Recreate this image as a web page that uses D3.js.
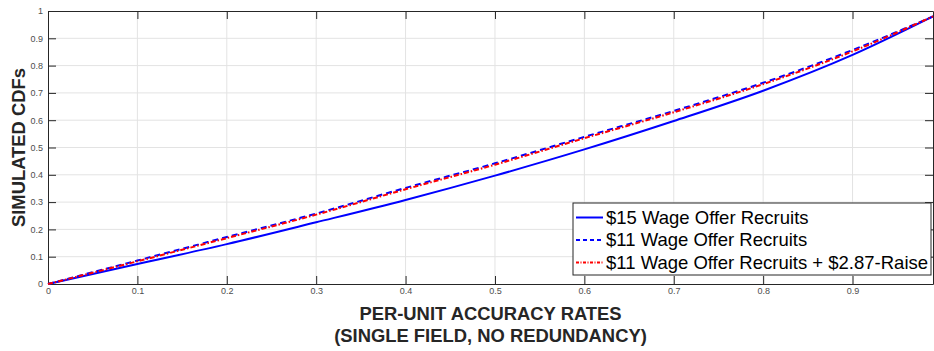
<!DOCTYPE html>
<html>
<head>
<meta charset="utf-8">
<script src="https://cdn.jsdelivr.net/npm/d3@7"></script>
<style>
	body { margin: 0; background: #fff; }
	svg { font-family: "Liberation Sans", Arial, Helvetica, sans-serif; }
</style>
</head>
<body>
<div id="chart"></div>
<script>
// Data
var accuracy = [0, 0.1, 0.2, 0.3, 0.4, 0.5, 0.6, 0.7, 0.8, 0.9, 0.99];
var wage15 = [0, 0.073, 0.146, 0.226, 0.308, 0.397, 0.493, 0.597, 0.708, 0.839, 0.98];
var wage11 = [0, 0.086, 0.172, 0.258, 0.352, 0.442, 0.539, 0.634, 0.737, 0.857, 0.98];
var wage11Raise = [0, 0.083, 0.168, 0.254, 0.347, 0.437, 0.534, 0.629, 0.732, 0.852, 0.98];
var seriesNames = ["$15 Wage Offer Recruits", "$11 Wage Offer Recruits", "$11 Wage Offer Recruits + $2.87-Raise"];
var xTicks = [0, 0.1, 0.2, 0.3, 0.4, 0.5, 0.6, 0.7, 0.8, 0.9];
var yTicks = [0, 0.1, 0.2, 0.3, 0.4, 0.5, 0.6, 0.7, 0.8, 0.9, 1];

var W = 934, H = 351;
var margin = {left: 48, right: 1, top: 11, bottom: 67};
var w = W - margin.left - margin.right,
	h = H - margin.top - margin.bottom;

var series = [
	{name: seriesNames[0], values: wage15, color: "#0000ff", dash: null},
	{name: seriesNames[1], values: wage11, color: "#0000ff", dash: "6,4"},
	{name: seriesNames[2], values: wage11Raise, color: "#ff0000", dash: "5,2,1.5,2"}
];

var svg = d3.select("#chart")
	.append("svg")
		.attr("width", W)
		.attr("height", H);

var g = svg.append("g")
	.attr("transform", "translate(" + margin.left + "," + margin.top + ")");

var x = d3.scaleLinear().domain([0, 0.99]).range([0, w]);
var y = d3.scaleLinear().domain([0, 1]).range([h, 0]);

// grid
g.append("g").selectAll("line")
	.data(xTicks.slice(1))
	.enter().append("line")
	.attr("x1", d => x(d)).attr("x2", d => x(d))
	.attr("y1", 0).attr("y2", h)
	.attr("stroke", "#e3e3e3").attr("stroke-width", 1);
g.append("g").selectAll("line")
	.data(yTicks.slice(1, -1))
	.enter().append("line")
	.attr("y1", d => y(d)).attr("y2", d => y(d))
	.attr("x1", 0).attr("x2", w)
	.attr("stroke", "#e3e3e3").attr("stroke-width", 1);

// axes (MATLAB style, ticks inward on all four sides)
var fmt = d => d === 0 ? "0" : d === 1 ? "1" : d3.format(".1f")(d);
function styleAxis(sel) {
	sel.select(".domain").attr("stroke", "#262626");
	sel.selectAll(".tick line").attr("stroke", "#262626");
	sel.selectAll(".tick text").attr("fill", "#4d4d4d").style("font-size", "9px");
}
g.append("g")
	.attr("transform", "translate(0," + h + ")")
	.call(d3.axisBottom(x).tickValues(xTicks).tickFormat(fmt).tickSizeInner(-8).tickSizeOuter(0).tickPadding(4))
	.call(styleAxis);
g.append("g")
	.call(d3.axisTop(x).tickValues(xTicks).tickFormat("").tickSizeInner(-8).tickSizeOuter(0))
	.call(styleAxis);
g.append("g")
	.call(d3.axisLeft(y).tickValues(yTicks).tickFormat(fmt).tickSizeInner(-8).tickSizeOuter(0).tickPadding(5))
	.call(styleAxis);
g.append("g")
	.attr("transform", "translate(" + w + ",0)")
	.call(d3.axisRight(y).tickValues(yTicks).tickFormat("").tickSizeInner(-8).tickSizeOuter(0))
	.call(styleAxis);

// lines
var line = d3.line()
	.x((d, i) => x(accuracy[i]))
	.y(d => y(d))
	.curve(d3.curveMonotoneX);

g.selectAll(".series")
	.data(series)
	.enter().append("path")
	.attr("class", "series")
	.attr("d", d => line(d.values))
	.attr("fill", "none")
	.attr("stroke", d => d.color)
	.attr("stroke-width", 2)
	.attr("stroke-dasharray", d => d.dash);

// axis titles
svg.append("text")
	.attr("x", margin.left + w / 2)
	.attr("y", 320)
	.attr("text-anchor", "middle")
	.style("font-size", "18.4px").style("font-weight", "bold").attr("fill", "#262626")
	.text("PER-UNIT ACCURACY RATES");
svg.append("text")
	.attr("x", margin.left + w / 2)
	.attr("y", 342)
	.attr("text-anchor", "middle")
	.style("font-size", "18.4px").style("font-weight", "bold").attr("fill", "#262626")
	.text("(SINGLE FIELD, NO REDUNDANCY)");
svg.append("text")
	.attr("transform", "translate(25," + (margin.top + h / 2) + ") rotate(-90)")
	.attr("text-anchor", "middle")
	.style("font-size", "18.4px").style("font-weight", "bold").attr("fill", "#262626")
	.text("SIMULATED CDFs");

// legend
var legend = svg.append("g").attr("transform", "translate(573,203)");
legend.append("rect")
	.attr("width", 358).attr("height", 72)
	.attr("fill", "#fff").attr("stroke", "#262626").attr("stroke-width", 1);
var item = legend.selectAll(".item")
	.data(series)
	.enter().append("g")
	.attr("transform", (d, i) => "translate(0," + (14.5 + i * 22.5) + ")");
item.append("line")
	.attr("x1", 3).attr("x2", 30)
	.attr("stroke", d => d.color).attr("stroke-width", 2)
	.attr("stroke-dasharray", d => d.dash ? "4,3" : null);
item.filter((d, i) => i === 2).select("line").attr("stroke-dasharray", "3,1.5,1,1.5");
item.append("text")
	.attr("x", 33).attr("dy", "0.35em")
	.style("font-size", "18.5px").attr("fill", "#000")
	.text(d => d.name);
</script>
</body>
</html>
